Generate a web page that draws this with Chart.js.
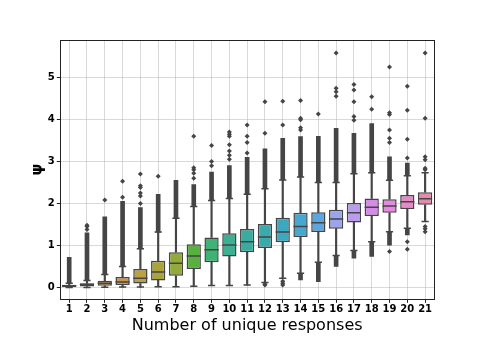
<!DOCTYPE html>
<html>
<head>
<meta charset="utf-8">
<script src="https://cdn.jsdelivr.net/npm/chart.js@4/dist/chart.umd.min.js"></script>
<style>
  body { margin: 0; background: #fff; }
</style>
</head>
<body>
<canvas id="boxChart" width="482" height="337"></canvas>
<script>
/* data */
const labels = ['1','2','3','4','5','6','7','8','9','10','11','12','13','14','15','16','17','18','19','20','21'];
const q1     = [0.01, 0.025, 0.04, 0.06, 0.095, 0.17, 0.28, 0.44, 0.60, 0.74, 0.84, 0.94, 1.08, 1.20, 1.32, 1.40, 1.55, 1.70, 1.78, 1.87, 1.97];
const median = [0.04, 0.07, 0.10, 0.13, 0.22, 0.37, 0.58, 0.75, 0.90, 1.01, 1.09, 1.20, 1.32, 1.45, 1.54, 1.63, 1.78, 1.91, 1.94, 2.04, 2.11];
const q3     = [0.065, 0.10, 0.16, 0.25, 0.44, 0.64, 0.84, 1.03, 1.19, 1.29, 1.39, 1.51, 1.66, 1.78, 1.79, 1.85, 2.01, 2.12, 2.10, 2.20, 2.27];
const whiskLo = [0.0, 0.0, 0.005, 0.01, 0.01, 0.02, 0.02, 0.03, 0.05, 0.05, 0.06, 0.12, 0.22, 0.34, 0.60, 0.76, 0.88, 1.09, 1.33, 1.41, 1.57];
const whiskHi = [0.10, 0.17, 0.31, 0.50, 0.92, 1.32, 1.65, 1.93, 2.07, 2.12, 2.22, 2.35, 2.56, 2.63, 2.50, 2.50, 2.71, 2.73, 2.55, 2.66, 2.73];
// outlier runs so dense they merge into a solid column
const denseHi = [[0.10,0.72],[0.17,1.30],[0.31,1.68],[0.50,2.05],[0.92,1.90],[1.32,2.22],[1.65,2.55],[1.93,2.45],[2.07,2.75],[2.12,2.90],[2.22,3.10],[2.35,3.30],[2.56,3.55],[2.63,3.59],[2.50,3.60],[2.50,3.79],[2.71,3.67],[2.73,3.90],[2.55,3.11],[2.66,2.96],null];
const denseLo = [null,null,null,null,null,null,null,null,null,null,null,null,null,[0.18,0.34],[0.14,0.60],[0.50,0.76],[0.70,0.88],[0.74,1.09],[1.01,1.33],[1.25,1.41],null];
// single outliers
const outliers = [
  [], [1.38, 1.45, 1.48], [2.08], [2.15, 2.53], [2.0, 2.18, 2.25, 2.38, 2.42, 2.70],
  [2.65], [], [2.60, 2.72, 2.80, 2.85, 3.60], [2.90, 3.00, 3.38],
  [3.05, 3.15, 3.25, 3.40, 3.60, 3.65, 3.70], [3.20, 3.45, 3.60, 3.87],
  [3.67, 4.42, 0.08, 0.06], [3.87, 4.43, 0.15, 0.10, 0.06], [3.75, 3.80, 3.99, 4.03, 4.45],
  [4.13], [4.55, 4.66, 4.74, 5.58], [3.98, 4.07, 4.42, 4.70, 4.83],
  [4.24, 4.54], [3.45, 3.55, 3.75, 4.12, 4.16, 5.25, 0.86], [3.08, 3.53, 4.22, 4.79, 1.09, 0.91],
  [2.80, 2.84, 3.04, 3.11, 4.03, 5.58, 1.45, 1.40, 1.33]
];
const yTicks = [0, 1, 2, 3, 4, 5];

const boxColors = ['#e07f8f','#dc8666','#d38c3c','#cc9646','#bda13e','#a8a33a','#92aa3a','#58b040','#40b276','#3db093','#3aac9f','#3aaaad','#3ba8bf','#45a8d0','#5ba5e0','#9ba5eb','#b99cee','#d48ce8','#e689e0','#e68ac6','#e48aaf'];
const lineGray = '#454545';

const outlierPoints = [];
outliers.forEach((vals, i) => vals.forEach(v => outlierPoints.push({ x: labels[i], y: v })));

/* frame round the plot area */
const framePlugin = {
    id: 'frame',
    afterDraw(chart) {
        const { ctx, chartArea: a } = chart;
        ctx.save();
        ctx.strokeStyle = '#222';
        ctx.lineWidth = 1;
        ctx.strokeRect(Math.round(a.left) + 0.5, Math.round(a.top) + 0.5,
                       Math.round(a.right - a.left), Math.round(a.bottom - a.top));
        ctx.restore();
    }
};

new Chart(document.getElementById('boxChart'), {
    type: 'bar',
    data: {
        labels: labels,
        datasets: [
            {   // whiskers
                data: labels.map((_, i) => [whiskLo[i], q1[i]]),
                backgroundColor: lineGray, barThickness: 1.5, grouped: false, order: 6
            },
            {
                data: labels.map((_, i) => [q3[i], whiskHi[i]]),
                backgroundColor: lineGray, barThickness: 1.5, grouped: false, order: 6
            },
            {   // dense outliers
                data: denseHi,
                backgroundColor: lineGray, barThickness: 4, grouped: false, order: 5
            },
            {
                data: denseLo,
                backgroundColor: lineGray, barThickness: 4, grouped: false, order: 5
            },
            {   // boxes
                data: labels.map((_, i) => [q1[i], q3[i]]),
                backgroundColor: boxColors,
                borderColor: lineGray, borderWidth: 1.5, borderSkipped: false,
                barPercentage: 0.8, categoryPercentage: 1.0, grouped: false, order: 4
            },
            {   // medians
                type: 'line', data: median, showLine: false,
                pointStyle: 'line', pointRadius: 7.1, borderColor: lineGray, borderWidth: 1.5, order: 2
            },
            {   // caps
                type: 'line', data: whiskLo, showLine: false,
                pointStyle: 'line', pointRadius: 3.6, borderColor: lineGray, borderWidth: 1.5, order: 2
            },
            {
                type: 'line', data: whiskHi, showLine: false,
                pointStyle: 'line', pointRadius: 3.6, borderColor: lineGray, borderWidth: 1.5, order: 2
            },
            {   // outliers
                type: 'line', data: outlierPoints, showLine: false,
                pointStyle: 'rectRot', pointRadius: 2.5, backgroundColor: lineGray,
                borderColor: lineGray, borderWidth: 0, order: 1
            }
        ]
    },
    options: {
        responsive: false,
        animation: false,
        devicePixelRatio: 1,
        layout: { padding: { left: 24, top: 40, right: 48, bottom: 0 } },
        plugins: { legend: { display: false }, tooltip: { enabled: false } },
        scales: {
            x: {
                z: 1,
                offset: true,
                grid: { offset: false, color: 'rgba(170,170,170,0.45)', tickColor: '#222', tickLength: 3.5 },
                border: { display: false },
                ticks: { color: '#000', padding: 1, autoSkip: false, maxRotation: 0, minRotation: 0,
                         font: { family: 'DejaVu Sans', size: 10, weight: 'bold' } },
                title: { display: true, text: 'Number of unique responses', color: '#000',
                         padding: { top: 0, bottom: 2 }, font: { family: 'DejaVu Sans', size: 16 } },
                afterFit: s => { s.height = 37.7; }
            },
            y: {
                z: 1,
                min: -0.28, max: 5.89,
                afterBuildTicks: s => { s.ticks = yTicks.map(v => ({ value: v })); },
                grid: { color: 'rgba(170,170,170,0.45)', tickColor: '#222', tickLength: 3.5 },
                border: { display: false },
                ticks: { color: '#000', padding: 2, font: { family: 'DejaVu Sans', size: 10, weight: 'bold' } },
                title: { display: true, text: 'ψ', color: '#000',
                         padding: { top: 5, bottom: 0 }, font: { family: 'DejaVu Sans', size: 15, weight: 'bold' } },
                afterFit: s => { s.width = 36.3; }
            }
        }
    },
    plugins: [framePlugin]
});
</script>
</body>
</html>
